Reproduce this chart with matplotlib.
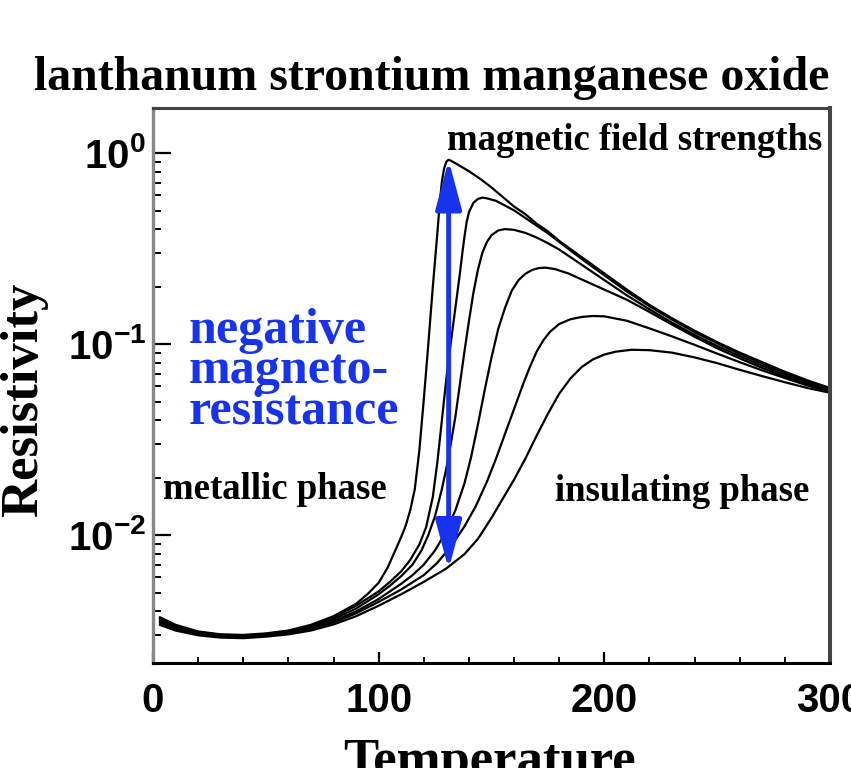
import numpy as np
import matplotlib
matplotlib.use("Agg")
import matplotlib.pyplot as plt
from matplotlib.ticker import FixedLocator, LogLocator, MultipleLocator, FuncFormatter, NullFormatter

plt.rcParams['font.family'] = ['Liberation Serif', 'DejaVu Serif']
plt.rcParams['mathtext.fontset'] = 'custom'
plt.rcParams['mathtext.rm'] = 'Liberation Sans:bold'
plt.rcParams['mathtext.it'] = 'Liberation Sans:bold'
plt.rcParams['mathtext.bf'] = 'Liberation Sans:bold'

# ---------------- data ----------------
# one temperature list and one log10(resistivity) list per magnetic field strength
temp_field1 = [3, 10, 20, 30, 40, 50, 60, 70, 80, 90, 95, 100, 104, 107, 110, 112, 114, 116, 118,
               120, 122, 124, 126, 127, 128, 129, 130, 131, 132, 135, 140, 145, 150, 155, 160,
               165, 170, 175, 180, 190, 200, 210, 220, 230, 240, 250, 260, 270, 280, 290, 300]
log_rho_field1 = [-2.43, -2.47, -2.505, -2.52, -2.523, -2.515, -2.50, -2.47, -2.425, -2.36, -2.31,
                  -2.25, -2.17, -2.09, -2.01, -1.95, -1.87, -1.76, -1.56, -1.29, -1.00, -0.70,
                  -0.42, -0.27, -0.15, -0.08, -0.045, -0.035, -0.04, -0.06, -0.095, -0.135, -0.18,
                  -0.23, -0.28, -0.32, -0.37, -0.41, -0.46, -0.545, -0.63, -0.715, -0.795, -0.865,
                  -0.93, -0.99, -1.045, -1.095, -1.145, -1.19, -1.23]

temp_field2 = [3, 10, 20, 30, 40, 50, 60, 70, 80, 90, 100, 105, 110, 114, 118, 121, 124, 126, 128,
               130, 132, 134, 136, 137, 138, 139, 140, 142, 144, 146, 148, 152, 156, 160, 165,
               170, 175, 180, 190, 200, 210, 220, 230, 240, 250, 260, 270, 280, 290, 300]
log_rho_field2 = [-2.435, -2.475, -2.508, -2.522, -2.526, -2.518, -2.502, -2.475, -2.43, -2.37,
                  -2.295, -2.245, -2.19, -2.13, -2.05, -1.96, -1.80, -1.62, -1.40, -1.18, -0.99,
                  -0.81, -0.63, -0.53, -0.44, -0.36, -0.31, -0.26, -0.24, -0.233, -0.237, -0.25,
                  -0.275, -0.30, -0.34, -0.38, -0.42, -0.465, -0.555, -0.64, -0.725, -0.802,
                  -0.872, -0.938, -0.996, -1.051, -1.101, -1.151, -1.195, -1.233]

temp_field3 = [3, 10, 20, 30, 40, 50, 60, 70, 80, 90, 100, 105, 110, 115, 119, 122, 125, 128, 130,
               132, 134, 136, 138, 140, 142, 144, 146, 148, 150, 153, 156, 160, 165, 170, 175,
               180, 190, 200, 210, 220, 230, 240, 250, 260, 270, 280, 290, 300]
log_rho_field3 = [-2.44, -2.48, -2.512, -2.525, -2.528, -2.52, -2.505, -2.48, -2.44, -2.385, -2.31,
                  -2.265, -2.215, -2.155, -2.08, -2.00, -1.90, -1.76, -1.65, -1.52, -1.38, -1.21,
                  -1.04, -0.88, -0.73, -0.61, -0.52, -0.465, -0.43, -0.405, -0.398, -0.402,
                  -0.418, -0.442, -0.472, -0.505, -0.585, -0.665, -0.745, -0.818, -0.888, -0.952,
                  -1.01, -1.063, -1.113, -1.16, -1.203, -1.24]

temp_field4 = [3, 10, 20, 30, 40, 50, 60, 70, 80, 90, 100, 105, 110, 115, 120, 125, 130, 134, 138,
               141, 144, 147, 150, 153, 156, 159, 162, 165, 168, 171, 174, 178, 184, 190, 200,
               210, 220, 230, 240, 250, 260, 270, 280, 290, 300]
log_rho_field4 = [-2.45, -2.485, -2.515, -2.528, -2.531, -2.523, -2.51, -2.486, -2.45, -2.40,
                  -2.335, -2.295, -2.255, -2.21, -2.155, -2.08, -1.98, -1.87, -1.73, -1.59, -1.42,
                  -1.24, -1.07, -0.92, -0.81, -0.72, -0.665, -0.632, -0.612, -0.602, -0.600,
                  -0.607, -0.63, -0.662, -0.715, -0.768, -0.832, -0.898, -0.962, -1.022, -1.075,
                  -1.125, -1.17, -1.21, -1.245]

temp_field5 = [3, 10, 20, 30, 40, 50, 60, 70, 80, 90, 100, 110, 120, 126, 132, 138, 143, 148, 152,
               156, 160, 164, 167, 170, 173, 176, 180, 185, 190, 195, 200, 210, 220, 230, 240,
               250, 260, 270, 280, 290, 300]
log_rho_field5 = [-2.46, -2.49, -2.52, -2.532, -2.535, -2.527, -2.515, -2.492, -2.458, -2.41,
                  -2.35, -2.285, -2.21, -2.145, -2.06, -1.955, -1.85, -1.72, -1.60, -1.47, -1.34,
                  -1.21, -1.12, -1.04, -0.98, -0.935, -0.895, -0.87, -0.858, -0.853, -0.855,
                  -0.878, -0.918, -0.96, -1.004, -1.05, -1.095, -1.138, -1.178, -1.217, -1.25]

temp_field6 = [3, 10, 20, 30, 40, 50, 60, 70, 80, 90, 100, 110, 120, 130, 138, 144, 150, 155, 160,
               165, 170, 175, 180, 185, 190, 195, 200, 205, 212, 220, 230, 240, 250, 260, 270,
               280, 290, 300]
log_rho_field6 = [-2.47, -2.50, -2.525, -2.537, -2.54, -2.532, -2.52, -2.50, -2.468, -2.425,
                  -2.37, -2.31, -2.245, -2.175, -2.10, -2.02, -1.91, -1.81, -1.71, -1.60, -1.48,
                  -1.365, -1.26, -1.18, -1.12, -1.08, -1.055, -1.04, -1.03, -1.032, -1.045, -1.07,
                  -1.10, -1.135, -1.168, -1.20, -1.23, -1.255]

arrow_temperature = 131
arrow_rho_top = 0.92
arrow_rho_bottom = 0.0066

x_ticks = [0, 100, 200, 300]
y_ticks = [1e-2, 1e-1, 1e0]
y_tick_labels = [r'$10^{-2}$', r'$10^{-1}$', r'$10^{0}$']

title = 'lanthanum strontium manganese oxide'
x_label = 'Temperature'
y_label = 'Resistivity'

# ---------------- figure ----------------
W, H = 851, 768
fig = plt.figure(figsize=(W / 100, H / 100), dpi=100)
ax = fig.add_axes([153 / W, 1 - 663 / H, (830 - 153) / W, (663 - 108) / H])

series = [(temp_field1, log_rho_field1), (temp_field2, log_rho_field2),
          (temp_field3, log_rho_field3), (temp_field4, log_rho_field4),
          (temp_field5, log_rho_field5), (temp_field6, log_rho_field6)]
for t, s in series:
    ax.plot(np.array(t), 10 ** np.array(s), color='black', lw=1.6,
            solid_joinstyle='round', solid_capstyle='round')

ax.set_yscale('log')
ax.set_xlim(0, 300)
ax.set_ylim(10 ** -2.67, 10 ** 0.236)

blue = '#1733ee'
ax.annotate('', xy=(arrow_temperature, arrow_rho_top), xytext=(arrow_temperature, arrow_rho_bottom),
            arrowprops=dict(arrowstyle='<|-|>,head_length=1.5,head_width=0.4', mutation_scale=20,
                            color=blue, lw=3.5, shrinkA=0, shrinkB=0))

# ticks
ax.xaxis.set_major_locator(FixedLocator(x_ticks))
ax.xaxis.set_minor_locator(MultipleLocator(20))
ax.yaxis.set_major_locator(FixedLocator(y_ticks))
ax.yaxis.set_major_formatter(FuncFormatter(lambda v, p: y_tick_labels[y_ticks.index(v)] if v in y_ticks else ''))
ax.yaxis.set_minor_locator(LogLocator(base=10, subs=np.arange(2, 10), numticks=20))
ax.yaxis.set_minor_formatter(NullFormatter())
ax.tick_params(axis='both', which='both', direction='in', color='black', top=False, right=False)
ax.tick_params(axis='y', which='major', length=13, width=1.6, pad=5, labelsize=29)
ax.tick_params(axis='y', which='minor', length=6, width=1.4)
ax.tick_params(axis='x', which='major', length=8, width=1.6, pad=14, labelsize=29)
ax.tick_params(axis='x', which='minor', length=4, width=1.4)
for lab in ax.get_xticklabels():
    lab.set_fontfamily('Liberation Sans')
    lab.set_fontweight('bold')

for side, col, lw in [('left', '#888888', 2.4), ('top', '#444444', 2.2),
                      ('right', '#444444', 2.9), ('bottom', 'black', 2.2)]:
    ax.spines[side].set_color(col)
    ax.spines[side].set_linewidth(lw)

def px(x, y):
    return x / W, 1 - y / H

# title and axis labels
fig.text(*px(432, 90), title, ha='center', va='baseline', fontsize=34.5, fontweight='bold')
fig.text(*px(490, 775), x_label, ha='center', va='baseline', fontsize=38, fontweight='bold')
fig.text(*px(37, 400), y_label, ha='center', va='baseline', rotation=90, rotation_mode='anchor',
         fontsize=38, fontweight='bold')

# annotations
fig.text(*px(822, 150), 'magnetic field strengths', ha='right', va='baseline', fontsize=26.5,
         fontweight='bold')
fig.text(*px(163, 499), 'metallic phase', ha='left', va='baseline', fontsize=26.5, fontweight='bold')
fig.text(*px(555, 501), 'insulating phase', ha='left', va='baseline', fontsize=26.5, fontweight='bold')
for i, line in enumerate(['negative', 'magneto-', 'resistance']):
    fig.text(*px(189, 343 + 40 * i), line, ha='left', va='baseline', fontsize=36,
             fontweight='bold', color=blue)

fig.savefig('out.png', dpi=100)
